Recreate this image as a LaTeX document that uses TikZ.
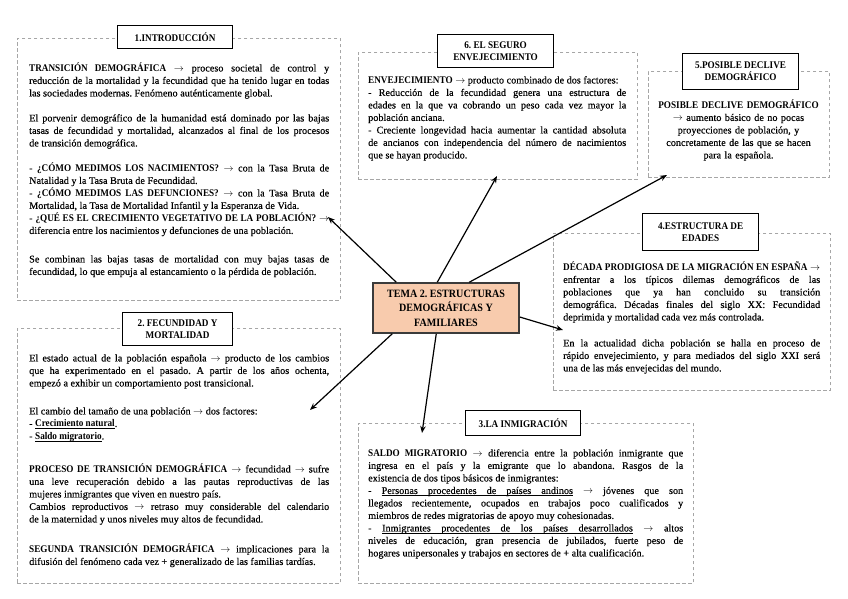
\documentclass[tikz,border=0pt]{standalone}
\usepackage{fontspec}
\setmainfont{Liberation Serif}[UprightFeatures={FakeBold=0.25}, BoldFeatures={FakeStretch=0.9}]
\usetikzlibrary{arrows.meta}
\hyphenpenalty=10000
\tolerance=10000
\frenchspacing
\definecolor{dashgray}{HTML}{A6A6A6}
\definecolor{peach}{HTML}{F8CBAD}
\definecolor{edgedark}{HTML}{3B3B3B}
\newcommand{\ra}{$\rightarrow$}
\newsavebox{\myulbox}
\newcommand{\ulw}[1]{\sbox{\myulbox}{#1}\rlap{\rule[-1.8pt]{\wd\myulbox}{0.5pt}}\usebox{\myulbox}}
\newcommand{\ulsp}{\leaders\hrule height -1.3pt depth 1.8pt\hskip\fontdimen2\font plus\fontdimen3\font minus\fontdimen4\font\relax}
\begin{document}
\begin{tikzpicture}[x=1pt,y=-1pt,
  dashbox/.style={draw=dashgray, line width=0.9pt, dash pattern=on 3.5pt off 2.5pt, anchor=north west, inner sep=0pt},
  titlebox/.style={draw=black, line width=1.2pt, fill=white, anchor=north west, inner sep=0pt, align=center, font=\bfseries\fontsize{10.2}{12}\selectfont},
  body/.style={anchor=north west, inner sep=0pt, align=justify, font=\fontsize{10.2}{12.5}\selectfont},
  cbody/.style={anchor=north, inner sep=0pt, align=center, font=\fontsize{10.2}{12.5}\selectfont},
  centerbox/.style={draw=edgedark, line width=1.5pt, fill=peach, inner sep=0pt, align=center, font=\bfseries\fontsize{11.2}{14.5}\selectfont},
  arr/.style={draw=black, line width=1.2pt, -{Stealth[length=7pt,width=5.5pt]}}
]
\useasboundingbox (0,0) rectangle (848,599);

% dashed frames
\node[dashbox, minimum width=323pt, minimum height=262pt] (b1) at (17,38) {};
\node[dashbox, minimum width=323pt, minimum height=255pt] (b2) at (17,328) {};
\node[dashbox, minimum width=279pt, minimum height=127pt] (b6) at (358,52) {};
\node[dashbox, minimum width=181pt, minimum height=106pt] (b5) at (648,71) {};
\node[dashbox, minimum width=277pt, minimum height=157pt] (b4) at (553,233) {};
\node[dashbox, minimum width=335pt, minimum height=160pt] (b3) at (358,423) {};

% titles
\node[titlebox, minimum width=115pt, minimum height=23pt] (h1) at (117,25) {1.INTRODUCCIÓN};
\node[titlebox, minimum width=110pt, minimum height=33pt] (h2) at (122,312) {2. FECUNDIDAD Y\\MORTALIDAD};
\node[titlebox, minimum width=116pt, minimum height=33pt] (h6) at (437,34) {6. EL SEGURO\\ENVEJECIMIENTO};
\node[titlebox, minimum width=116pt, minimum height=36pt] (h5) at (682,53) {5.POSIBLE DECLIVE\\DEMOGRÁFICO};
\node[titlebox, minimum width=116pt, minimum height=37pt] (h4) at (642,213) {4.ESTRUCTURA DE\\EDADES};
\node[titlebox, minimum width=115pt, minimum height=25pt] (h3) at (465,410) {3.LA INMIGRACIÓN};

% box 1 text
\node[body, text width=300pt] (p1a) at (29,62.5) {\strut\textbf{TRANSICIÓN DEMOGRÁFICA} \ra{} proceso societal de control y\linebreak reducción de la mortalidad y la fecundidad que ha tenido lugar en todas\linebreak las sociedades modernas. Fenómeno auténticamente global.};
\node[body, text width=300pt] (p1b) at (29,112.5) {\strut El porvenir demográfico de la humanidad está dominado por las bajas\linebreak tasas de fecundidad y mortalidad, alcanzados al final de los procesos\linebreak de transición demográfica.};
\node[body, text width=300pt] (p1c) at (29,162.5) {\strut - \textbf{¿CÓMO MEDIMOS LOS NACIMIENTOS?} \ra{} con la Tasa Bruta de\linebreak Natalidad y la Tasa Bruta de Fecundidad.\par
- \textbf{¿CÓMO MEDIMOS LAS DEFUNCIONES?} \ra{} con la Tasa Bruta de\linebreak Mortalidad, la Tasa de Mortalidad Infantil y la Esperanza de Vida.\par
- \textbf{¿QUÉ ES EL CRECIMIENTO VEGETATIVO DE LA POBLACIÓN?} \ra\linebreak diferencia entre los nacimientos y defunciones de una población.};
\node[body, text width=300pt] (p1d) at (29,253.5) {\strut Se combinan las bajas tasas de mortalidad con muy bajas tasas de\linebreak fecundidad, lo que empuja al estancamiento o la pérdida de población.};

% box 2 text
\node[body, text width=300pt] (p2a) at (29,352.5) {\strut El estado actual de la población española \ra{} producto de los cambios\linebreak que ha experimentado en el pasado. A partir de los años ochenta,\linebreak empezó a exhibir un comportamiento post transicional.};
\node[body, text width=300pt] (p2b) at (29,405.5) {\strut El cambio del tamaño de una población \ra{} dos factores:\par
- \textbf{\ulw{Crecimiento}\ulsp\ulw{natural}}.\par
- \textbf{\ulw{Saldo}\ulsp\ulw{migratorio}}.};
\node[body, text width=300pt] (p2c) at (29,463.5) {\strut\textbf{PROCESO DE TRANSICIÓN DEMOGRÁFICA} \ra{} fecundidad \ra{} sufre\linebreak una leve recuperación debido a las pautas reproductivas de las\linebreak mujeres inmigrantes que viven en nuestro país.\par
Cambios reproductivos \ra{} retraso muy considerable del calendario\linebreak de la maternidad y unos niveles muy altos de fecundidad.};
\node[body, text width=300pt] (p2d) at (29,543.5) {\strut\textbf{SEGUNDA TRANSICIÓN DEMOGRÁFICA} \ra{} implicaciones para la\linebreak difusión del fenómeno cada vez + generalizado de las familias tardías.};

% box 6 text
\node[body, text width=258pt] (p6) at (368,74.5) {\strut\textbf{ENVEJECIMIENTO} \ra{} producto combinado de dos factores:\par
- Reducción de la fecundidad genera una estructura de\linebreak edades en la que va cobrando un peso cada vez mayor la\linebreak población anciana.\par
- Creciente longevidad hacia aumentar la cantidad absoluta\linebreak de ancianos con independencia del número de nacimientos\linebreak que se hayan producido.};

% box 5 text
\node[cbody, text width=175pt] (p5) at (738.5,99.5) {\strut\textbf{POSIBLE DECLIVE DEMOGRÁFICO}\\ \ra{} aumento básico de no pocas\\ proyecciones de población, y\\ concretamente de las que se hacen\\ para la española.};

% box 4 text
\node[body, text width=257pt] (p4a) at (563,261.5) {\strut\textbf{DÉCADA PRODIGIOSA DE LA MIGRACIÓN EN ESPAÑA} \ra\linebreak enfrentar a los típicos dilemas demográficos de las\linebreak poblaciones que ya han concluido su transición\linebreak demográfica. Décadas finales del siglo XX: Fecundidad\linebreak deprimida y mortalidad cada vez más controlada.};
\node[body, text width=257pt] (p4b) at (563,337.5) {\strut En la actualidad dicha población se halla en proceso de\linebreak rápido envejecimiento, y para mediados del siglo XXI será\linebreak una de las más envejecidas del mundo.};

% box 3 text
\node[body, text width=315pt] (p3) at (368,447.5) {\strut\textbf{SALDO MIGRATORIO} \ra{} diferencia entre la población inmigrante que\linebreak ingresa en el país y la emigrante que lo abandona. Rasgos de la\linebreak existencia de dos tipos básicos de inmigrantes:\par
- \ulw{Personas}\ulsp\ulw{procedentes}\ulsp\ulw{de}\ulsp\ulw{países}\ulsp\ulw{andinos} \ra{} jóvenes que son\linebreak llegados recientemente, ocupados en trabajos poco cualificados y\linebreak miembros de redes migratorias de apoyo muy cohesionadas.\par
- \ulw{Inmigrantes}\ulsp\ulw{procedentes}\ulsp\ulw{de}\ulsp\ulw{los}\ulsp\ulw{países}\ulsp\ulw{desarrollados} \ra{} altos\linebreak niveles de educación, gran presencia de jubilados, fuerte peso de\linebreak hogares unipersonales y trabajos en sectores de + alta cualificación.};

% center
\node[centerbox, minimum width=146pt, minimum height=50pt] (c) at (446,308) {TEMA 2. ESTRUCTURAS\\DEMOGRÁFICAS Y\\FAMILIARES};

% arrow tips
\coordinate (t1) at (328,217);
\coordinate (t6) at (497,176);
\coordinate (t5) at (667,175);
\coordinate (t4) at (563,330);
\coordinate (t3) at (422,433);
\coordinate (t2) at (310,410);

\draw[arr] ([xshift=24pt]c.north west) -- (t1);
\draw[arr] ([xshift=65pt]c.north west) -- (t6);
\draw[arr] ([xshift=97pt]c.north west) -- (t5);
\draw[arr] ([yshift=-9pt]c.east) -- (t4);
\draw[arr] ([xshift=64pt]c.south west) -- (t3);
\draw[arr] ([xshift=20pt]c.south west) -- (t2);
\end{tikzpicture}
\end{document}
